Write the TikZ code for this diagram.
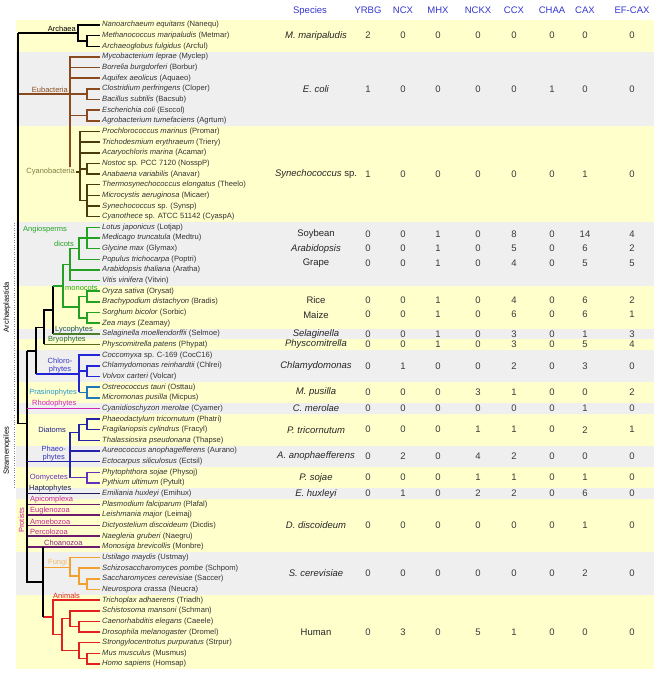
\documentclass[tikz,border=0pt]{standalone}
\usepackage{fontspec}
\setmainfont{Liberation Sans}
\usetikzlibrary{positioning}

\definecolor{bandY}{HTML}{FFFFCC}
\definecolor{bandG}{HTML}{EFEFEF}
\definecolor{leaftxt}{HTML}{333333}
\definecolor{numtxt}{HTML}{3A3A3A}
\definecolor{hdrblue}{HTML}{3434D0}
\definecolor{eubac}{HTML}{8B4A1E}
\definecolor{cyanoL}{HTML}{7F7F3F}
\definecolor{cyano}{HTML}{4A3A0C}
\definecolor{angio}{HTML}{23A123}
\definecolor{lyco}{HTML}{4C7D28}
\definecolor{lycoL}{HTML}{1F5050}
\definecolor{bryo}{HTML}{5C6A1C}
\definecolor{bryoL}{HTML}{2B6B2B}
\definecolor{chloro}{HTML}{2323D8}
\definecolor{chloroL}{HTML}{3A3AC8}
\definecolor{pras}{HTML}{2277BB}
\definecolor{prasL}{HTML}{2A98CC}
\definecolor{rhodo}{HTML}{D624B4}
\definecolor{strame}{HTML}{2424A8}
\definecolor{diatL}{HTML}{22228A}
\definecolor{phaeoL}{HTML}{3434B8}
\definecolor{oomy}{HTML}{6430BC}
\definecolor{hapto}{HTML}{1C1C5C}
\definecolor{protist}{HTML}{6C1C6C}
\definecolor{protistL}{HTML}{C82498}
\definecolor{choanoL}{HTML}{8A2A8A}
\definecolor{fungi}{HTML}{F2A030}
\definecolor{fungiL}{HTML}{F2BC64}
\definecolor{animal}{HTML}{E22020}

\tikzset{
  lineage/.style={line width=1.5pt},
  elbow/.style={to path={|- (\tikztotarget)}},
  leaf/.style={anchor=west, inner xsep=2pt, inner ysep=0pt, text=leaftxt,
    font=\fontsize{7.6}{8}\selectfont},
  clade/.style={inner sep=1pt, font=\fontsize{7.5}{8}\selectfont},
  hdr/.style={text=hdrblue, font=\fontsize{9.5}{11}\selectfont},
  spec/.style={text=black!85, font=\fontsize{9.5}{11}\selectfont},
  cnt/.style={text=numtxt, font=\fontsize{9.5}{11}\selectfont}
}

\begin{document}
\begin{tikzpicture}[x=1pt, y=-10.65pt]
\useasboundingbox (0,-2.347) rectangle (661,61.127);

\fill[bandY] (16,-0.5) rectangle (654,60.5);
\foreach \a/\b in {2.5/9.5, 18.5/24.5, 28.5/29.5, 30.5/33.5, 35.5/36.5,
                   39.5/41.5, 43.5/44.5, 49.5/53.5}
  \fill[bandG] (16,\a) rectangle (654,\b);

\foreach \t [count=\i from 0] in {
 {\textit{Nanoarchaeum equitans} (Nanequ)},
 {\textit{Methanococcus maripaludis} (Metmar)},
 {\textit{Archaeoglobus fulgidus} (Arcful)},
 {\textit{Mycobacterium leprae} (Myclep)},
 {\textit{Borrelia burgdorferi} (Borbur)},
 {\textit{Aquifex aeolicus} (Aquaeo)},
 {\textit{Clostridium perfringens} (Cloper)},
 {\textit{Bacillus subtilis} (Bacsub)},
 {\textit{Escherichia coli} (Esccol)},
 {\textit{Agrobacterium tumefaciens} (Agrtum)},
 {\textit{Prochlorococcus marinus} (Promar)},
 {\textit{Trichodesmium erythraeum} (Triery)},
 {\textit{Acaryochloris marina} (Acamar)},
 {\textit{Nostoc} sp. PCC 7120 (NosspP)},
 {\textit{Anabaena variabilis} (Anavar)},
 {\textit{Thermosynechococcus elongatus} (Theelo)},
 {\textit{Microcystis aeruginosa} (Micaer)},
 {\textit{Synechococcus} sp. (Synsp)},
 {\textit{Cyanothece} sp. ATCC 51142 (CyaspA)},
 {\textit{Lotus japonicus} (Lotjap)},
 {\textit{Medicago truncatula} (Medtru)},
 {\textit{Glycine max} (Glymax)},
 {\textit{Populus trichocarpa} (Poptri)},
 {\textit{Arabidopsis thaliana} (Aratha)},
 {\textit{Vitis vinifera} (Vitvin)},
 {\textit{Oryza sativa} (Orysat)},
 {\textit{Brachypodium distachyon} (Bradis)},
 {\textit{Sorghum bicolor} (Sorbic)},
 {\textit{Zea mays} (Zeamay)},
 {\textit{Selaginella moellendorffii} (Selmoe)},
 {\textit{Physcomitrella patens} (Phypat)},
 {\textit{Coccomyxa} sp. C-169 (CocC16)},
 {\textit{Chlamydomonas reinhardtii} (Chlrei)},
 {\textit{Volvox carteri} (Volcar)},
 {\textit{Ostreococcus tauri} (Osttau)},
 {\textit{Micromonas pusilla} (Micpus)},
 {\textit{Cyanidioschyzon merolae} (Cyamer)},
 {\textit{Phaeodactylum tricornutum} (Phatri)},
 {\textit{Fragilariopsis cylindrus} (Fracyl)},
 {\textit{Thalassiosira pseudonana} (Thapse)},
 {\textit{Aureococcus anophagefferens} (Aurano)},
 {\textit{Ectocarpus siliculosus} (Ectsil)},
 {\textit{Phytophthora sojae} (Physoj)},
 {\textit{Pythium ultimum} (Pytult)},
 {\textit{Emiliania huxleyi} (Emihux)},
 {\textit{Plasmodium falciparum} (Plafal)},
 {\textit{Leishmania major} (Leimaj)},
 {\textit{Dictyostelium discoideum} (Dicdis)},
 {\textit{Naegleria gruberi} (Naegru)},
 {\textit{Monosiga brevicollis} (Monbre)},
 {\textit{Ustilago maydis} (Ustmay)},
 {\textit{Schizosaccharomyces pombe} (Schpom)},
 {\textit{Saccharomyces cerevisiae} (Saccer)},
 {\textit{Neurospora crassa} (Neucra)},
 {\textit{Trichoplax adhaerens} (Triadh)},
 {\textit{Schistosoma mansoni} (Schman)},
 {\textit{Caenorhabditis elegans} (Caeele)},
 {\textit{Drosophila melanogaster} (Dromel)},
 {\textit{Strongylocentrotus purpuratus} (Strpur)},
 {\textit{Mus musculus} (Musmus)},
 {\textit{Homo sapiens} (Homsap)}}
  \node[leaf] (s\i) at (100,\i) {\t};

\coordinate (R)   at (18,0.75);
\coordinate (A)   at (78,0.75);
\coordinate (A2)  at (87,1.5);
\coordinate (E)   at (70,6.5);
\coordinate (E1)  at (87,6.5);
\coordinate (E2)  at (87,8.5);
\coordinate (Cy)  at (80,13.8);
\coordinate (C1)  at (87,13.5);
\coordinate (C2)  at (87,16.5);
\coordinate (Kj)  at (27,37.4);
\coordinate (K)   at (27,30.6);
\coordinate (V)   at (36,30.6);
\coordinate (St)  at (44,28.4);
\coordinate (Tr)  at (53,26.75);
\coordinate (Ang) at (63,24.5);
\coordinate (Di)  at (70,22.5);
\coordinate (Fab) at (79,21);
\coordinate (Le)  at (87,20);
\coordinate (Mo)  at (79,26.5);
\coordinate (Mo1) at (87,25.5);
\coordinate (Mo2) at (87,27.5);
\coordinate (C)   at (79,32.75);
\coordinate (ChV) at (87,32.5);
\coordinate (Pras) at (87,34.5);
\coordinate (S)   at (70,41);
\coordinate (D)   at (79,38.25);
\coordinate (D2)  at (87,37.5);
\coordinate (Oo)  at (87,42.5);
\coordinate (O)   at (43,52.3);
\coordinate (F)   at (70,50.95);
\coordinate (F2)  at (79,51.75);
\coordinate (F3)  at (87,52.5);
\coordinate (An)  at (53,55.6);
\coordinate (Bil) at (62,57.25);
\coordinate (Prot) at (70,55.75);
\coordinate (Ecd) at (79,56.5);
\coordinate (Deut) at (79,58.75);
\coordinate (Mam) at (87,59.5);

\path[lineage, color=eubac]
  (R) edge[elbow] (E)
  (E) edge[elbow] (s3.west) edge[elbow] (s4.west) edge[elbow] (s5.west)
      edge[elbow] (E1) edge[elbow] (E2) edge[elbow] (Cy)
  (E1) edge[elbow] (s6.west) edge[elbow] (s7.west)
  (E2) edge[elbow] (s8.west) edge[elbow] (s9.west);
\path[lineage, color=cyano]
  (Cy) edge[elbow] (s10.west) edge[elbow] (s11.west) edge[elbow] (s12.west)
       edge[elbow] (C1) edge[elbow] (C2)
  (C1) edge[elbow] (s13.west) edge[elbow] (s14.west)
  (C2) edge[elbow] (s15.west) edge[elbow] (s16.west)
       edge[elbow] (s17.west) edge[elbow] (s18.west);
\path[lineage]
  (R) edge[elbow] (A) edge[elbow] (Kj)
  (A) edge[elbow] (s0.west) edge[elbow] (A2)
  (A2) edge[elbow] (s1.west) edge[elbow] (s2.west)
  (K) edge (V) edge[elbow] (O)
  (V) edge[elbow] (St) edge (V |- C)
  (St) edge[elbow] (Tr) edge (St |- s30)
  (Tr) edge (Tr |- Ang) edge (Tr |- s29)
  (O) edge (O |- s49) edge (O |- An);

\path[lineage, color=angio]
  (Tr |- Ang) edge (Ang)
  (Ang) edge[elbow] (Di) edge[elbow] (Mo)
  (Di) edge[elbow] (Fab) edge[elbow] (s23.west) edge[elbow] (s24.west)
  (Fab) edge[elbow] (Le) edge[elbow] (s22.west)
  (Le) edge[elbow] (s19.west) edge[elbow] (s20.west) edge[elbow] (s21.west)
  (Mo) edge[elbow] (Mo1) edge[elbow] (Mo2)
  (Mo1) edge[elbow] (s25.west) edge[elbow] (s26.west)
  (Mo2) edge[elbow] (s27.west) edge[elbow] (s28.west);
\draw[lineage, color=lyco] (Tr |- s29) -- (s29.west);
\draw[lineage, color=bryo] (St |- s30) -- (s30.west);

\path[lineage, color=chloro]
  (V |- C) edge (C)
  (C) edge[elbow] (s31.west) edge[elbow] (ChV) edge (C |- Pras)
  (ChV) edge[elbow] (s32.west) edge[elbow] (s33.west);
\path[lineage, color=pras]
  (C |- Pras) edge (Pras)
  (Pras) edge[elbow] (s34.west) edge[elbow] (s35.west);
\draw[lineage, color=rhodo] (K |- s36) -- (s36.west);

\path[lineage, color=strame]
  (K |- s41) edge (s41.west)
  (S) edge[elbow] (D) edge[elbow] (s40.west) edge (S |- Oo)
  (D) edge[elbow] (D2) edge[elbow] (s39.west)
  (D2) edge[elbow] (s37.west) edge[elbow] (s38.west);
\path[lineage, color=oomy]
  (S |- Oo) edge (Oo)
  (Oo) edge[elbow] (s42.west) edge[elbow] (s43.west);
\draw[lineage, color=hapto] (K |- s44) -- (s44.west);
\foreach \i in {45,...,49}
  \draw[lineage, color=protist] (K |- s\i) -- (s\i.west);
\draw[lineage] (K |- s44) -- (K |- O);

\path[lineage, color=fungi]
  (O |- F) edge (F)
  (F) edge[elbow] (s50.west) edge[elbow] (F2)
  (F2) edge[elbow] (s51.west) edge[elbow] (F3)
  (F3) edge[elbow] (s52.west) edge[elbow] (s53.west);
\path[lineage, color=animal]
  (O |- An) edge (An)
  (An) edge[elbow] (s54.west) edge[elbow] (Bil)
  (Bil) edge[elbow] (Prot) edge[elbow] (Deut)
  (Prot) edge[elbow] (s55.west) edge[elbow] (Ecd)
  (Ecd) edge[elbow] (s56.west) edge[elbow] (s57.west)
  (Deut) edge[elbow] (s58.west) edge[elbow] (Mam)
  (Mam) edge[elbow] (s59.west) edge[elbow] (s60.west);
\draw[lineage] (O |- s49) -- (O |- An);

\node[clade, anchor=south east] (archaea) at (77,0.75) {Archaea};
\node[clade, anchor=south east, text=eubac] (eubacteria) at (69,6.5) {Eubacteria};
\node[clade, anchor=east, text=cyanoL, fill=bandY] (cyanobac) at (76,13.8) {Cyanobacteria};
\draw[lineage, color=cyano] (cyanobac.east) -- (Cy);
\node[clade, anchor=west, text=angio] (angiosp) at (22,19.2) {Angiosperms};
\node[clade, anchor=east, text=angio] (dicots) at (75,20.5) {dicots};
\node[clade, anchor=west, text=angio] (monocots) at (64,24.7) {monocots};
\node[clade, anchor=south west, text=lycoL] (lycoph) at (54,29) {Lycophytes};
\node[clade, anchor=south west, text=bryoL] (bryoph) at (47,30) {Bryophytes};
\node[clade, anchor=south, text=chloroL, align=center] (chloroph) at (60,32.75) {Chloro-\\phytes};
\node[clade, anchor=east, text=prasL] (prasino) at (78,34.5) {Prasinophytes};
\node[clade, anchor=south west, text=rhodo] (rhodoph) at (31,36) {Rhodophytes};
\node[clade, anchor=east, text=diatL] (diatoms) at (67,38) {Diatoms};
\node[clade, anchor=east, text=phaeoL, align=center] (phaeoph) at (67,40.2) {Phaeo-\\phytes};
\node[clade, anchor=east, text=oomy] (oomyc) at (69,42.5) {Oomycetes};
\node[clade, anchor=south west, text=hapto] (haptoph) at (28,44) {Haptophytes};
\foreach \t [count=\i from 45] in {Apicomplexa, Euglenozoa, Amoebozoa, Percolozoa}
  \node[clade, anchor=south west, text=protistL] (grp\i) at (29,\i) {\t};
\node[clade, anchor=south west, text=choanoL] (choano) at (43,49) {Choanozoa};
\node[clade, anchor=south west, text=fungiL] (fungi) at (47,50.95) {Fungi};
\node[clade, anchor=south west, text=animal] (animals) at (52,54) {Animals};

\draw[dotted, gray] (14,18.6) -- (14,36.4);
\draw[dotted, gray] (14,36.6) -- (14,43.4);
\node[clade, rotate=90] (archaeplastida) at (7,26.5) {Archaeplastida};
\node[clade, rotate=90] (stramenopiles) at (7,40) {Stramenopiles};
\node[clade, rotate=90, text=protistL] (protists) at (21.5,46.5) {Protists};

\node[hdr] (h0) at (310,-1.35) {Species};
\foreach \t/\x [count=\c] in {YRBG/368, NCX/403, MHX/438, NCKX/478, CCX/514,
                              CHAA/552, CAX/585, EF-CAX/632}
  \node[hdr] (h\c) at (\x,-1.35) {\t};

\foreach \r/\sp/\vals [count=\k] in {
  1/{\textit{M. maripaludis}}/{2,0,0,0,0,0,0,0},
  6/{\textit{E. coli}}/{1,0,0,0,0,1,0,0},
  14/{\textit{Synechococcus} sp.}/{1,0,0,0,0,0,1,0},
  19.6/{Soybean}/{0,0,1,0,8,0,14,4},
  21/{\textit{Arabidopsis}}/{0,0,1,0,5,0,6,2},
  22.4/{Grape}/{0,0,1,0,4,0,5,5},
  25.8/{Rice}/{0,0,1,0,4,0,6,2},
  27.2/{Maize}/{0,0,1,0,6,0,6,1},
  29/{\textit{Selaginella}}/{0,0,1,0,3,0,1,3},
  30/{\textit{Physcomitrella}}/{0,0,1,0,3,0,5,4},
  32/{\textit{Chlamydomonas}}/{0,1,0,0,2,0,3,0},
  34.5/{\textit{M. pusilla}}/{0,0,0,3,1,0,0,2},
  36/{\textit{C. merolae}}/{0,0,0,0,0,0,1,0},
  38/{\textit{P. tricornutum}}/{0,0,0,1,1,0,2,1},
  40.5/{\textit{A. anophaefferens}}/{0,2,0,4,2,0,0,0},
  42.5/{\textit{P. sojae}}/{0,0,0,1,1,0,1,0},
  44/{\textit{E. huxleyi}}/{0,1,0,2,2,0,6,0},
  47/{\textit{D. discoideum}}/{0,0,0,0,0,0,1,0},
  51.5/{\textit{S. cerevisiae}}/{0,0,0,0,0,0,2,0},
  57/{Human}/{0,3,0,5,1,0,0,0}}{
  \node[spec] (sp\k) at (316,\r) {\sp};
  \foreach \v [count=\c] in \vals
    \node[cnt] (n\k-\c) at (h\c |- sp\k) {\v};
}
\end{tikzpicture}
\end{document}
